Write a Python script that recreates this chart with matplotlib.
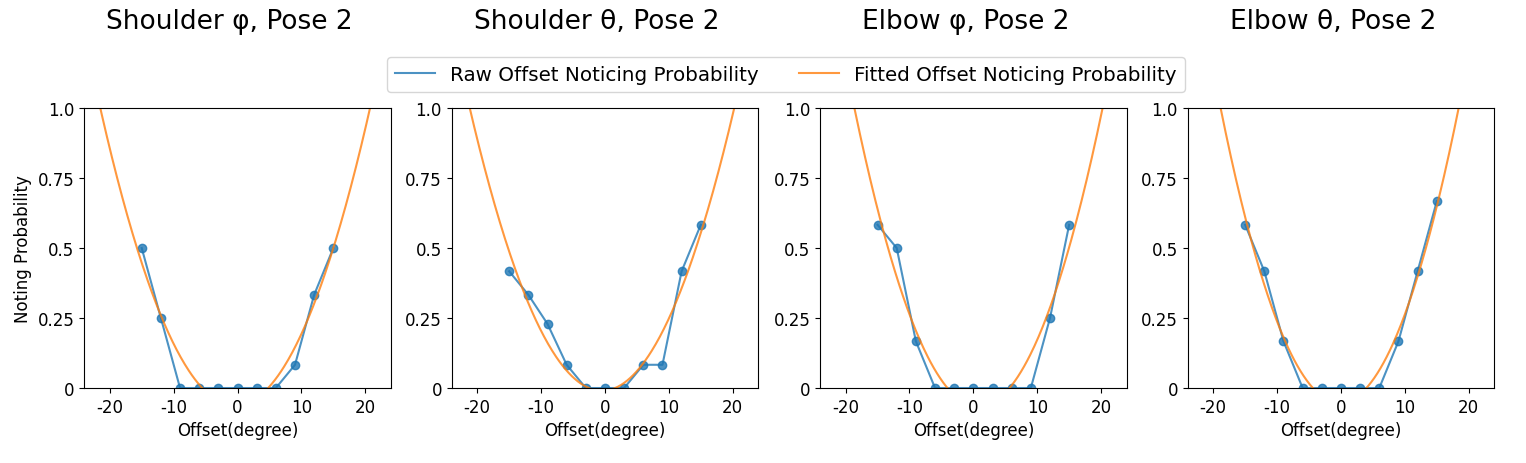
import numpy as np
import matplotlib
matplotlib.use('Agg')
import matplotlib.pyplot as plt
from matplotlib.lines import Line2D

plt.rcParams['axes.unicode_minus'] = False

# Offsets tested (degree) and raw noticing probabilities per joint
offsets = [-15, -12, -9, -6, -3, 0, 3, 6, 9, 12, 15]

titles = ['Shoulder φ, Pose 2', 'Shoulder θ, Pose 2', 'Elbow φ, Pose 2', 'Elbow θ, Pose 2']

shoulder_phi = [0.5, 0.25, 0, 0, 0, 0, 0, 0, 0.083, 0.333, 0.5]
shoulder_theta = [0.417, 0.333, 0.229, 0.083, 0, 0, 0, 0.083, 0.083, 0.417, 0.583]
elbow_phi = [0.583, 0.5, 0.167, 0, 0, 0, 0, 0, 0, 0.25, 0.583]
elbow_theta = [0.583, 0.417, 0.167, 0, 0, 0, 0, 0, 0.167, 0.417, 0.667]

raw_data = [shoulder_phi, shoulder_theta, elbow_phi, elbow_theta]

ytick_vals = [0, 0.25, 0.5, 0.75, 1.0]
ytick_labels = ['0', '0.25', '0.5', '0.75', '1.0']
xtick_vals = [-20, -10, 0, 10, 20]

fig = plt.figure(figsize=(15.26, 4.64), dpi=100)

lefts = [0.0552, 0.296, 0.5374, 0.7783]
xs = np.linspace(-24, 24, 300)

for i in range(4):
    ax = fig.add_axes([lefts[i], 0.1616, 0.2009, 0.6034])
    ax.plot(offsets, raw_data[i], marker='o', color='tab:blue', alpha=0.8)
    # quadratic fit of the raw probabilities
    coef = np.polyfit(offsets, raw_data[i], 2)
    ax.plot(xs, np.polyval(coef, xs), color='tab:orange', alpha=0.8)
    ax.set_xlim(-24, 24)
    ax.set_ylim(0, 1)
    ax.set_yticks(ytick_vals)
    ax.set_yticklabels(ytick_labels)
    ax.set_xticks(xtick_vals)
    ax.tick_params(labelsize=12)
    ax.set_xlabel('Offset(degree)', fontsize=12)
    if i == 0:
        ax.set_ylabel('Noting Probability', fontsize=12)
    ax.text(0.474, 1.31, titles[i], transform=ax.transAxes, ha='center', va='center', fontsize=19)

handles = [Line2D([], [], color='tab:blue', alpha=0.8),
           Line2D([], [], color='tab:orange', alpha=0.8)]
labels = ['Raw Offset Noticing Probability', 'Fitted Offset Noticing Probability']
fig.legend(handles, labels, loc='center', ncol=2, fontsize=14.3,
           bbox_to_anchor=(0.515, 0.837))

fig.savefig('out.png', dpi=100)
